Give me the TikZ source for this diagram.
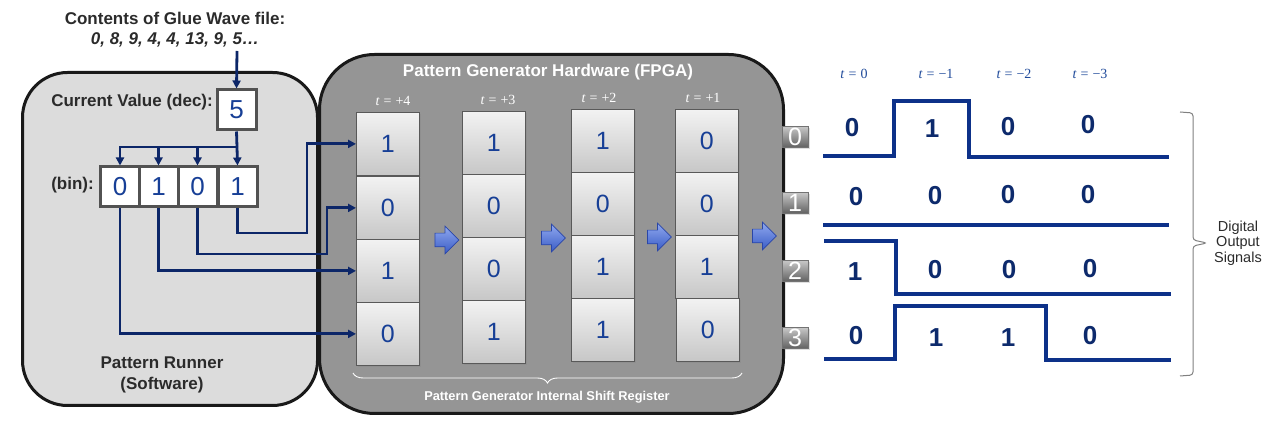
\documentclass[tikz,border=0pt]{standalone}
\usepackage{fontspec}
\setmainfont{Liberation Sans}
\newfontfamily\tfont{Liberation Serif}
\usetikzlibrary{shapes.arrows,decorations.pathreplacing,arrows.meta,shadows}
\definecolor{wirec}{HTML}{0C2668}
\definecolor{digitblue}{HTML}{173F96}
\definecolor{sigc}{HTML}{0D3189}
\definecolor{sigval}{HTML}{0D2A6C}
\definecolor{lblc}{HTML}{2B2B2B}
\definecolor{runfill}{HTML}{DCDCDC}
\definecolor{fpgafill}{HTML}{959595}
\definecolor{tblue}{HTML}{1F4A9A}
\definecolor{arrtop}{HTML}{8FA8EE}
\definecolor{arrbot}{HTML}{3A5CC6}
\definecolor{arrdraw}{HTML}{2A46A8}
\newcommand{\tv}[1]{\textit{t}\hspace{4pt}=\hspace{4pt}#1}
\tikzset{
  lbl/.style={text=lblc, inner sep=0, font=\fontsize{17}{20}\selectfont\bfseries},
  wlbl/.style={text=white, inner sep=0, font=\fontsize{17}{20}\selectfont\bfseries},
  tlbl/.style={text=white, inner sep=0, font=\fontsize{14}{15}\selectfont\tfont},
  otlbl/.style={text=tblue, inner sep=0, font=\fontsize{14}{15}\selectfont\tfont},
  bigbox/.style={draw=black!90, line width=3pt, anchor=north west},
  valbox/.style={draw=black!68, line width=3pt, fill=white, minimum width=39pt, minimum height=40pt, inner sep=0, font=\fontsize{26}{26}\selectfont, text=digitblue},
  cell/.style={draw=black!65, line width=0.8pt, top color=black!5, bottom color=black!22, minimum width=63pt, minimum height=63pt, inner sep=0, font=\fontsize{25}{25}\selectfont, text=digitblue, anchor=north west, drop shadow={opacity=0.25, shadow xshift=1.5pt, shadow yshift=-1.5pt}},
  wire/.style={draw=wirec, line width=2.8pt},
  wirea/.style={wire, -{Triangle[length=8pt,width=8pt]}},
  shiftarrow/.style={single arrow, draw=arrdraw, line width=0.7pt, top color=arrtop, bottom color=arrbot, minimum height=24pt, inner xsep=0pt, inner ysep=6.5pt, single arrow head extend=7pt, anchor=center},
  pinbox/.style={draw=black!55, line width=0.6pt, top color=black!22, bottom color=black!62, minimum width=26pt, minimum height=21pt, inner sep=0, text=white, font=\fontsize{25}{25}\selectfont, drop shadow={opacity=0.25, shadow xshift=1.5pt, shadow yshift=-1.5pt}},
  sig/.style={draw=sigc, line width=3.2pt},
  sval/.style={text=sigval, inner sep=0, font=\fontsize{26}{26}\selectfont\bfseries}
}
\begin{document}
\begin{tikzpicture}[x=1pt,y=-1pt]
\useasboundingbox (0,0) rectangle (1270,443);
% main boxes
\node[bigbox, fill=runfill, rounded corners=45pt, minimum width=295pt, minimum height=333pt] (runner) at (21,71) {};
\node[bigbox, fill=fpgafill, rounded corners=55pt, minimum width=464pt, minimum height=359pt] (fpga) at (318,53) {};
% titles
\node[lbl] (t1) at (175,18) {Contents of Glue Wave file:};
\node[lbl, font=\fontsize{17}{20}\selectfont\bfseries\itshape] (t2) at (175,40) {0, 8, 9, 4, 4, 13, 9, 5…};
\coordinate (src) at (237,51);
\node[lbl, anchor=east] (cvl) at (213,102) {Current Value (dec):};
\node[lbl, anchor=east] (binl) at (94,185) {(bin):};
\node[lbl, align=center, font=\fontsize{17}{21}\selectfont\bfseries] (runl) at (162,375) {Pattern Runner\\(Software)};
\node[wlbl] (fpgal) at (548,72) {Pattern Generator Hardware (FPGA)};
% values
\node[valbox] (v5) at (236.5,110) {5};
\node[valbox] (b0) at (120,187) {0};
\node[valbox] (b1) at (158.5,187) {1};
\node[valbox] (b2) at (197.5,187) {0};
\node[valbox] (b3) at (237.5,187) {1};
% t labels
\node[tlbl] (tl4) at (393,101) {\tv{+4}};
\node[tlbl] (tl3) at (498,100) {\tv{+3}};
\node[tlbl] (tl2) at (599,98) {\tv{+2}};
\node[tlbl] (tl1) at (703,98) {\tv{+1}};
% register cells
\node[cell] (c11) at (356,112) {1};
\node[cell] (c12) at (356,176) {0};
\node[cell] (c13) at (356,239) {1};
\node[cell] (c14) at (356,302) {0};
\node[cell] (c21) at (462,111) {1};
\node[cell] (c22) at (462,174) {0};
\node[cell] (c23) at (462,237) {0};
\node[cell] (c24) at (462,300) {1};
\node[cell] (c31) at (571,109) {1};
\node[cell] (c32) at (571,172) {0};
\node[cell] (c33) at (571,235) {1};
\node[cell] (c34) at (571,298) {1};
\node[cell] (c41) at (675,109) {0};
\node[cell] (c42) at (675,172) {0};
\node[cell] (c43) at (675,235) {1};
\node[cell] (c44) at (676,298) {0};
% shift arrows
\node[shiftarrow] (a1) at (443.5,240) {};
\node[shiftarrow] (a2) at (550,238) {};
\node[shiftarrow] (a3) at (656,237) {};
\node[shiftarrow] (a4) at (761,236) {};
% brace under register
\draw[white, line width=0.9pt, decorate, decoration={brace, amplitude=10pt, mirror}] (353,373) -- (742,373);
\node[wlbl, font=\fontsize{12.8}{15}\selectfont\bfseries] (brl) at (547,397) {Pattern Generator Internal Shift Register};
% wires
\coordinate (fan) at (237,147);
\draw[wirea] (src) -- (v5.north);
\draw[wire] (v5.south) -- (fan);
\draw[wirea] (fan) -| (b0.north);
\draw[wirea] (fan) -| (b1.north);
\draw[wirea] (fan) -| (b2.north);
\draw[wirea] (fan) -- (b3.north);
\draw[wirea] (b3.south) |- (307,233) |- (c11.west);
\draw[wirea] (b2.south) |- (327,254) |- (c12.west);
\draw[wirea] (b1.south) |- (c13.west);
\draw[wirea] (b0.south) |- (c14.west);
% pins
\node[pinbox] (p0) at (795,137) {0};
\node[pinbox] (p1) at (795,203) {1};
\node[pinbox] (p2) at (795,271) {2};
\node[pinbox] (p3) at (795,338) {3};
% output time labels
\node[otlbl] (ot0) at (854,74) {\tv{0}};
\node[otlbl] (ot1) at (936,74) {\tv{−1}};
\node[otlbl] (ot2) at (1014,74) {\tv{−2}};
\node[otlbl] (ot3) at (1090,74) {\tv{−3}};
% signals
\draw[sig] (823,156) -- (894,156) -- (894,101) -- (969,101) -- (969,157) -- (1169,157);
\draw[sig] (823,225) -- (1169,225);
\draw[sig] (824,241) -- (896,241) -- (896,294) -- (1171,294);
\draw[sig] (824,359) -- (895,359) -- (895,306) -- (1046,306) -- (1046,360) -- (1171,360);
% signal values
\node[sval] at (852,128) {0};
\node[sval] at (932,129) {1};
\node[sval] at (1008,127) {0};
\node[sval] at (1088,125) {0};
\node[sval] at (856,197) {0};
\node[sval] at (935,196) {0};
\node[sval] at (1008,195) {0};
\node[sval] at (1088,195) {0};
\node[sval] at (855,272) {1};
\node[sval] at (935,270) {0};
\node[sval] at (1009,270) {0};
\node[sval] at (1090,269) {0};
\node[sval] at (856,336) {0};
\node[sval] at (936,338) {1};
\node[sval] at (1008,338) {1};
\node[sval] at (1090,336) {0};
% right brace
\draw[black!50, line width=1pt, rounded corners=3pt] (1180,112) -- (1193,113) -- (1193,240) -- (1207,243) -- (1193,246) -- (1193,375) -- (1180,376);
\node[text=lblc, align=center, inner sep=0, font=\fontsize{14.5}{15.5}\selectfont] (dos) at (1238,243) {Digital\\Output\\Signals};
\end{tikzpicture}
\end{document}
